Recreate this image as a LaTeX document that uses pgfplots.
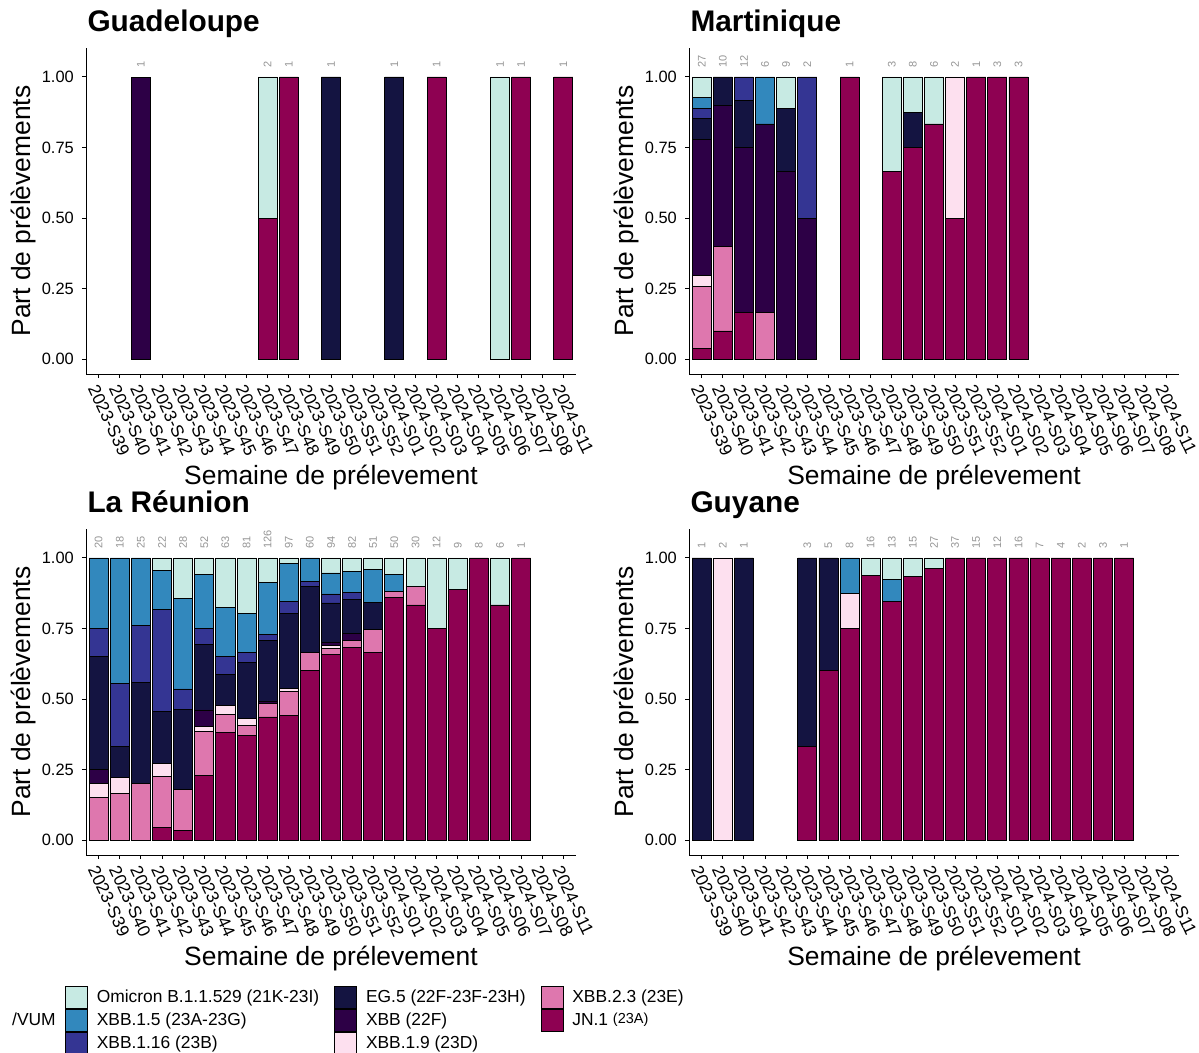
\documentclass[border=0pt]{standalone}
\usepackage{fontspec}
\setmainfont{Liberation Sans}
\usepackage{pgfplots}
\usepackage{pgfplotstable}
\pgfplotsset{compat=1.18}

\definecolor{omi}{HTML}{C7EAE3}
\definecolor{xa}{HTML}{3288BD}
\definecolor{xb}{HTML}{343593}
\definecolor{eg}{HTML}{141441}
\definecolor{xbbc}{HTML}{2D0046}
\definecolor{xnine}{HTML}{FDE0EF}
\definecolor{xtwo}{HTML}{DE77AE}
\definecolor{jn}{HTML}{8E0152}
\definecolor{cntc}{HTML}{959595}

% columns: JN.1, XBB.2.3, XBB.1.9, XBB, EG.5, XBB.1.16, XBB.1.5, Omicron (shares)
\pgfplotstableread{
idx jn x23 x19 xbb eg x116 x15 omi
2 0 0 0 1 0 0 0 0
8 0.5 0 0 0 0 0 0 0.5
9 1 0 0 0 0 0 0 0
11 0 0 0 0 1 0 0 0
14 0 0 0 0 1 0 0 0
16 1 0 0 0 0 0 0 0
19 0 0 0 0 0 0 0 1
20 1 0 0 0 0 0 0 0
22 1 0 0 0 0 0 0 0
}\tabGP

\pgfplotstableread{
idx jn x23 x19 xbb eg x116 x15 omi
0 0.0370 0.2222 0.0370 0.4815 0.0741 0.0370 0.0370 0.0741
1 0.1 0.3 0 0.5 0.1 0 0 0
2 0.1667 0 0 0.5833 0.1667 0.0833 0 0
3 0 0.1667 0 0.6667 0 0 0.1667 0
4 0 0 0 0.6667 0.2222 0 0 0.1111
5 0 0 0 0.5 0 0.5 0 0
7 1 0 0 0 0 0 0 0
9 0.6667 0 0 0 0 0 0 0.3333
10 0.75 0 0 0 0.125 0 0 0.125
11 0.8333 0 0 0 0 0 0 0.1667
12 0.5 0 0.5 0 0 0 0 0
13 1 0 0 0 0 0 0 0
14 1 0 0 0 0 0 0 0
15 1 0 0 0 0 0 0 0
}\tabMQ

\pgfplotstableread{
idx jn x23 x19 xbb eg x116 x15 omi
0 0 0.15 0.05 0.05 0.40 0.10 0.25 0
1 0 0.1667 0.0556 0 0.1111 0.2222 0.4444 0
2 0 0.20 0 0 0.36 0.20 0.24 0
3 0.0455 0.1818 0.0455 0 0.1818 0.3636 0.1364 0.0455
4 0.0357 0.1429 0 0 0.2857 0.0714 0.3214 0.1429
5 0.2308 0.1538 0.0192 0.0577 0.2308 0.0577 0.1923 0.0577
6 0.3810 0.0635 0.0317 0 0.1111 0.0635 0.1746 0.1746
7 0.3704 0.0370 0.0247 0 0.1975 0.0370 0.1358 0.1975
8 0.4365 0.0476 0 0.0079 0.2143 0.0238 0.1825 0.0873
9 0.4433 0.0825 0.0103 0 0.2680 0.0412 0.1340 0.0206
10 0.6 0.0667 0 0 0.2333 0.0167 0.0833 0
11 0.6596 0.0213 0.0106 0.0106 0.1383 0.0319 0.0745 0.0532
12 0.6829 0.0244 0 0.0244 0.1220 0.0244 0.0732 0.0488
13 0.6667 0.0784 0 0 0.0980 0 0.1176 0.0392
14 0.86 0.02 0 0 0 0 0.06 0.06
15 0.8333 0.0667 0 0 0 0 0 0.1
16 0.75 0 0 0 0 0 0 0.25
17 0.8889 0 0 0 0 0 0 0.1111
18 1 0 0 0 0 0 0 0
19 0.8333 0 0 0 0 0 0 0.1667
20 1 0 0 0 0 0 0 0
}\tabRE

\pgfplotstableread{
idx jn x23 x19 xbb eg x116 x15 omi
0 0 0 0 0 1 0 0 0
1 0 0 1 0 0 0 0 0
2 0 0 0 0 1 0 0 0
5 0.3333 0 0 0 0.6667 0 0 0
6 0.6 0 0 0 0.4 0 0 0
7 0.75 0 0.125 0 0 0 0.125 0
8 0.9375 0 0 0 0 0 0 0.0625
9 0.8462 0 0 0 0 0 0.0769 0.0769
10 0.9333 0 0 0 0 0 0 0.0667
11 0.9630 0 0 0 0 0 0 0.0370
12 1 0 0 0 0 0 0 0
13 1 0 0 0 0 0 0 0
14 1 0 0 0 0 0 0 0
15 1 0 0 0 0 0 0 0
16 1 0 0 0 0 0 0 0
17 1 0 0 0 0 0 0 0
18 1 0 0 0 0 0 0 0
19 1 0 0 0 0 0 0 0
20 1 0 0 0 0 0 0 0
}\tabGY

\newcommand{\stack}[1]{%
\addplot[fill=jn] table[x=idx,y=jn]{#1};
\addplot[fill=xtwo] table[x=idx,y=x23]{#1};
\addplot[fill=xnine] table[x=idx,y=x19]{#1};
\addplot[fill=xbbc] table[x=idx,y=xbb]{#1};
\addplot[fill=eg] table[x=idx,y=eg]{#1};
\addplot[fill=xb] table[x=idx,y=x116]{#1};
\addplot[fill=xa] table[x=idx,y=x15]{#1};
\addplot[fill=omi] table[x=idx,y=omi]{#1};
}
\newcommand{\cnt}[2]{\node[cntstyle] at (axis cs:#1,1.032) {#2};}

\tikzset{cntstyle/.style={rotate=90, anchor=west, inner sep=0pt, text=cntc, font=\fontsize{11}{11}\selectfont}}

\pgfplotsset{
 panel/.style={
  scale only axis, width=490pt, height=326pt,
  xmin=-0.6, xmax=22.6, ymin=-0.0525, ymax=1.1025,
  ybar stacked, bar width=0.9,
  clip=false,
  axis x line*=bottom, axis y line*=left,
  axis line style={line width=1pt, black},
  xtick={0,...,22},
  xticklabels={2023-S39,2023-S40,2023-S41,2023-S42,2023-S43,2023-S44,2023-S45,2023-S46,2023-S47,2023-S48,2023-S49,2023-S50,2023-S51,2023-S52,2024-S01,2024-S02,2024-S03,2024-S04,2024-S05,2024-S06,2024-S07,2024-S08,2024-S11},
  ytick={0,0.25,0.5,0.75,1},
  yticklabels={0.00,0.25,0.50,0.75,1.00},
  tick align=outside, major tick length=4pt,
  tick style={line width=1pt, black},
  ticklabel style={font=\fontsize{16.4}{18}\selectfont},
  xticklabel style={yshift=-5pt, rotate=-65, anchor=north west, inner sep=0pt, font=\fontsize{17.4}{18}\selectfont},
  yticklabel style={xshift=-8pt, anchor=east, inner sep=0pt},
  ylabel={Part de prélèvements},
  xlabel={Semaine de prélevement},
  label style={font=\fontsize{26.4}{28}\selectfont},
  ylabel style={at={(axis description cs:-0.128,0.5)}, anchor=center},
  xlabel style={at={(axis description cs:0.5,-0.318)}, anchor=center},
  title style={at={(axis description cs:0,1)}, anchor=base west, xshift=-2pt, yshift=11pt, font=\bfseries\fontsize{29.8}{32}\selectfont},
  every axis plot/.append style={draw=black, line width=0.8pt},
 }
}

\begin{document}
\begin{tikzpicture}
\path[use as bounding box] (0pt,0pt) rectangle (1199pt,-1052pt);

% Guadeloupe
\begin{axis}[panel, at={(86pt,-374pt)}, anchor=south west, title={Guadeloupe}]
\stack{\tabGP}
\cnt{2}{1}\cnt{8}{2}\cnt{9}{1}\cnt{11}{1}\cnt{14}{1}\cnt{16}{1}\cnt{19}{1}\cnt{20}{1}\cnt{22}{1}
\end{axis}

% Martinique
\begin{axis}[panel, at={(689pt,-374pt)}, anchor=south west, title={Martinique}]
\stack{\tabMQ}
\cnt{0}{27}\cnt{1}{10}\cnt{2}{12}\cnt{3}{6}\cnt{4}{9}\cnt{5}{2}\cnt{7}{1}\cnt{9}{3}\cnt{10}{8}\cnt{11}{6}\cnt{12}{2}\cnt{13}{1}\cnt{14}{3}\cnt{15}{3}
\end{axis}

% La Reunion
\begin{axis}[panel, at={(86pt,-855pt)}, anchor=south west, title={La Réunion}]
\stack{\tabRE}
\cnt{0}{20}\cnt{1}{18}\cnt{2}{25}\cnt{3}{22}\cnt{4}{28}\cnt{5}{52}\cnt{6}{63}\cnt{7}{81}\cnt{8}{126}\cnt{9}{97}\cnt{10}{60}
\cnt{11}{94}\cnt{12}{82}\cnt{13}{51}\cnt{14}{50}\cnt{15}{30}\cnt{16}{12}\cnt{17}{9}\cnt{18}{8}\cnt{19}{6}\cnt{20}{1}
\end{axis}

% Guyane
\begin{axis}[panel, at={(689pt,-855pt)}, anchor=south west, title={Guyane}]
\stack{\tabGY}
\cnt{0}{1}\cnt{1}{2}\cnt{2}{1}\cnt{5}{3}\cnt{6}{5}\cnt{7}{8}\cnt{8}{16}\cnt{9}{13}\cnt{10}{15}\cnt{11}{27}
\cnt{12}{37}\cnt{13}{15}\cnt{14}{12}\cnt{15}{16}\cnt{16}{7}\cnt{17}{4}\cnt{18}{2}\cnt{19}{3}\cnt{20}{1}
\end{axis}

% Legend
\node[anchor=west, inner sep=0pt, font=\fontsize{17.4}{18}\selectfont] at (12pt,-1019pt) {/VUM};
\begin{axis}[hide axis, scale only axis, width=10pt, height=10pt,
  xmin=0, xmax=1, ymin=0, ymax=1,
  at={(65pt,-986pt)}, anchor=north west,
  legend columns=3,
  legend cell align=left,
  legend style={at={(0,1)}, anchor=north west, draw=none, fill=none,
    inner sep=0pt, outer sep=0pt, row sep=0pt,
    font=\fontsize{17.4}{18}\selectfont,
    nodes={inner sep=0pt},
    /tikz/every even column/.append style={column sep=15pt}},
  legend image code/.code={\draw[#1] (0pt,-11pt) rectangle (22pt,11pt); \path (31pt,0pt);},
]
\addlegendimage{fill=omi, draw=black, line width=0.8pt}
\addlegendentry{Omicron B.1.1.529 (21K-23I)}
\addlegendimage{fill=eg, draw=black, line width=0.8pt}
\addlegendentry{EG.5 (22F-23F-23H)}
\addlegendimage{fill=xtwo, draw=black, line width=0.8pt}
\addlegendentry{XBB.2.3 (23E)}
\addlegendimage{fill=xa, draw=black, line width=0.8pt}
\addlegendentry{XBB.1.5 (23A-23G)}
\addlegendimage{fill=xbbc, draw=black, line width=0.8pt}
\addlegendentry{XBB (22F)}
\addlegendimage{fill=jn, draw=black, line width=0.8pt}
\addlegendentry{JN.1 \raisebox{2pt}{\fontsize{14.5}{15}\selectfont(23A)}}
\addlegendimage{fill=xb, draw=black, line width=0.8pt}
\addlegendentry{XBB.1.16 (23B)}
\addlegendimage{fill=xnine, draw=black, line width=0.8pt}
\addlegendentry{XBB.1.9 (23D)}
\end{axis}
\end{tikzpicture}
\end{document}
